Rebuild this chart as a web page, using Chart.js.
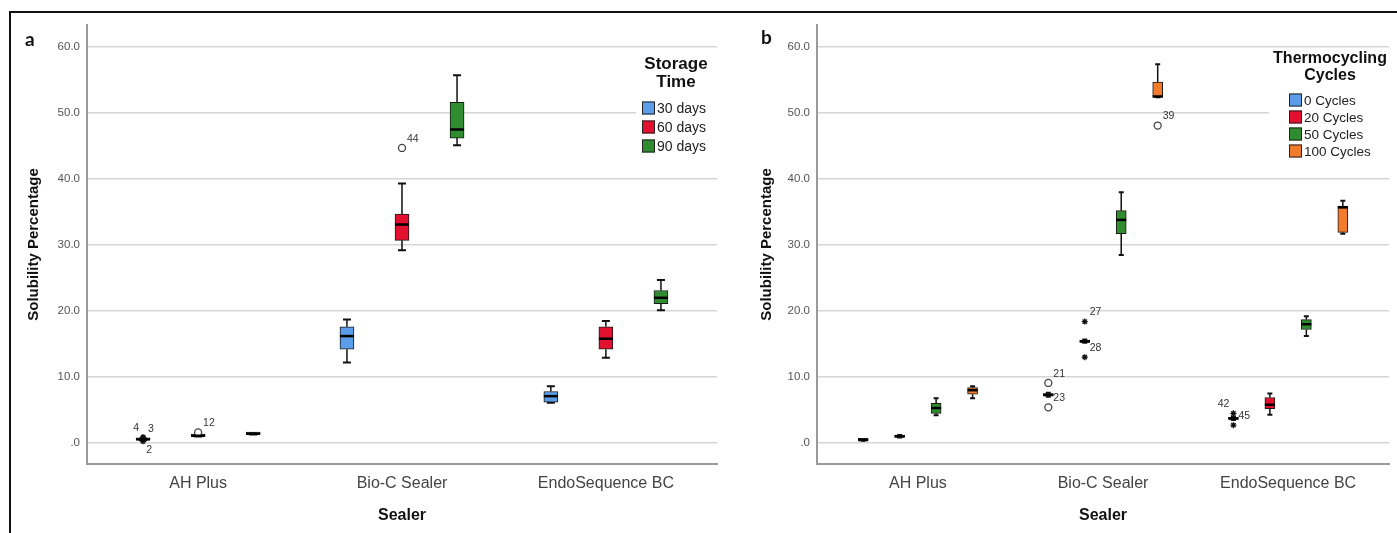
<!DOCTYPE html>
<html>
<head>
<meta charset="utf-8">
<script src="https://cdn.jsdelivr.net/npm/chart.js@4.4.1/dist/chart.umd.min.js"></script>
<style>
  html, body { margin: 0; padding: 0; background: #fff; }
  #wrap { position: relative; width: 1397px; height: 533px; overflow: hidden; }
  #frame { position: absolute; left: 9px; top: 11px; width: 1400px; height: 600px;
           border-top: 2px solid #111; border-left: 2px solid #111; }
  canvas { position: absolute; top: 0; }
  #chartA { left: 0; }
  #chartB { left: 725px; }
  .tag { position: absolute; font: bold 19px Lato, "DejaVu Sans", sans-serif; color: #111; }
</style>
</head>
<body>
<div id="wrap">
  <div id="frame"></div>
  <canvas id="chartA" width="725" height="533"></canvas>
  <canvas id="chartB" width="672" height="533"></canvas>
  <div class="tag" style="left:25px;top:27px">a</div>
  <div class="tag" style="left:761px;top:25px">b</div>
</div>
<script>
// shared
const sealers = ['AH Plus', 'Bio-C Sealer', 'EndoSequence BC'];
const yTicks = [0, 10, 20, 30, 40, 50, 60];
const boxColors = ['#5b9de8', '#e3112f', '#2f8c2f', '#f27b2c'];

// panel a - storage time, each entry is [min, q1, median, q3, max] per sealer
const storageTimes = ['30 days', '60 days', '90 days'];
const days30 = [[0.4, 0.5, 0.55, 0.6, 0.7], [12.2, 14.2, 16.2, 17.6, 18.7], [6.1, 6.2, 7.1, 7.8, 8.6]];
const days60 = [[1.0, 1.05, 1.1, 1.15, 1.2], [29.2, 30.7, 33.1, 34.7, 39.3], [12.9, 14.2, 15.8, 17.6, 18.5]];
const days90 = [[1.3, 1.35, 1.4, 1.45, 1.5], [45.1, 46.2, 47.5, 51.6, 55.7], [20.1, 21.1, 22.0, 23.1, 24.7]];
// outliers: [sealer index, value, case number, marker, label side]
const days30Out = [[0, 0.9, '4', 'star', 'ul'], [0, 0.75, '3', 'star', 'ur'], [0, 0.25, '2', 'star', 'b']];
const days60Out = [[0, 1.6, '12', 'circle', 'ur'], [1, 44.7, '44', 'circle', 'ur']];
const days90Out = [];

// panel b - thermocycling
const cycles = ['0 Cycles', '20 Cycles', '50 Cycles', '100 Cycles'];
const cyc0 = [[0.35, 0.4, 0.45, 0.5, 0.55], [7.0, 7.1, 7.3, 7.5, 7.6], [3.5, 3.6, 3.7, 3.9, 4.0]];
const cyc20 = [[0.85, 0.9, 1.0, 1.1, 1.2], [15.2, 15.25, 15.4, 15.6, 15.7], [4.3, 5.2, 5.8, 6.9, 7.5]];
const cyc50 = [[4.2, 4.5, 5.3, 6.0, 6.8], [28.5, 31.7, 33.8, 35.2, 38.0], [16.2, 17.2, 18.0, 18.7, 19.2]];
const cyc100 = [[6.8, 7.4, 8.0, 8.4, 8.6], [52.4, 52.4, 52.5, 54.7, 57.4], [31.7, 31.9, 35.7, 35.9, 36.7]];
const cyc0Out = [[1, 9.1, '21', 'circle', 'ur'], [1, 5.4, '23', 'circle', 'ur'], [2, 4.5, '42', 'star', 'ul'], [2, 2.7, '45', 'star', 'ur']];
const cyc20Out = [[1, 18.4, '27', 'star', 'ur'], [1, 13.0, '28', 'star', 'ur']];
const cyc50Out = [];
const cyc100Out = [[1, 48.1, '39', 'circle', 'ur']];

Chart.defaults.font.family = '"Liberation Sans", Arial, sans-serif';
Chart.defaults.animation = false;

function boxChart(id, series, names, outs, o) {
  const n = series.length;
  const offsets = names.map((_, i) => (i - (n - 1) / 2) * o.step);
  const datasets = [];

  // outliers on top
  const pts = [];
  outs.forEach((list, si) => list.forEach(p => pts.push({ x: p[0] + 1 + offsets[si], y: p[1], id: p[2], mk: p[3], side: p[4] })));
  datasets.push({
    type: 'scatter', order: 0,
    data: pts,
    pointStyle: pts.map(p => p.mk),
    pointRadius: pts.map(p => p.mk === 'star' ? 3 : 3.5),
    pointBackgroundColor: '#fff',
    pointBorderColor: pts.map(p => p.mk === 'star' ? '#111' : '#444'),
    pointBorderWidth: 1.3
  });

  series.forEach((stats, si) => {
    datasets.push({
      type: 'bar', label: names[si], order: 1,
      data: stats.map((s, ci) => ({ x: ci + 1 + offsets[si], y: [s[1], s[3]] })),
      backgroundColor: boxColors[si],
      borderColor: '#1a1a1a',
      borderWidth: 1,
      borderSkipped: false,
      barThickness: o.boxWidth,
      minBarLength: 2,
      grouped: false
    });
  });

  const whiskers = {
    id: 'whiskers',
    beforeDatasetsDraw(chart) {
      const { ctx, scales: { x, y } } = chart;
      ctx.save();
      ctx.strokeStyle = '#111';
      ctx.lineWidth = 1.5;
      series.forEach((stats, si) => stats.forEach((s, ci) => {
        const px = x.getPixelForValue(ci + 1 + offsets[si]);
        const c = o.cap / 2;
        ctx.beginPath();
        ctx.moveTo(px, y.getPixelForValue(s[0]));
        ctx.lineTo(px, y.getPixelForValue(s[1]));
        ctx.moveTo(px, y.getPixelForValue(s[3]));
        ctx.lineTo(px, y.getPixelForValue(s[4]));
        ctx.stroke();
        ctx.lineWidth = 2;
        ctx.beginPath();
        ctx.moveTo(px - c, y.getPixelForValue(s[0]));
        ctx.lineTo(px + c, y.getPixelForValue(s[0]));
        ctx.moveTo(px - c, y.getPixelForValue(s[4]));
        ctx.lineTo(px + c, y.getPixelForValue(s[4]));
        ctx.stroke();
        ctx.lineWidth = 1.5;
      }));
      ctx.restore();
    },
    afterDatasetsDraw(chart) {
      const { ctx, scales: { x, y } } = chart;
      ctx.save();
      // medians
      ctx.strokeStyle = '#000';
      ctx.lineWidth = 2.5;
      series.forEach((stats, si) => stats.forEach((s, ci) => {
        const px = x.getPixelForValue(ci + 1 + offsets[si]);
        const py = y.getPixelForValue(s[2]);
        ctx.beginPath();
        ctx.moveTo(px - o.boxWidth / 2, py);
        ctx.lineTo(px + o.boxWidth / 2, py);
        ctx.stroke();
      }));
      // case labels
      ctx.fillStyle = '#333';
      ctx.font = '10.5px "Liberation Sans", Arial, sans-serif';
      ctx.textBaseline = 'middle';
      pts.forEach(p => {
        const px = x.getPixelForValue(p.x), py = y.getPixelForValue(p.y);
        if (p.side === 'ul') { ctx.textAlign = 'right'; ctx.fillText(p.id, px - 4, py - 9); }
        else if (p.side === 'b') { ctx.textAlign = 'center'; ctx.fillText(p.id, px + 6, py + 9); }
        else { ctx.textAlign = 'left'; ctx.fillText(p.id, px + 5, py - 9); }
      });
      // legend
      const lg = o.legend;
      ctx.fillStyle = '#fff';
      ctx.fillRect(lg.x0, lg.y0, lg.x1 - lg.x0, lg.y1 - lg.y0);
      ctx.fillStyle = '#111';
      ctx.textAlign = 'center';
      ctx.font = 'bold ' + lg.titleSize + 'px "Liberation Sans", Arial, sans-serif';
      lg.title.forEach((t, i) => ctx.fillText(t, lg.titleX, lg.titleY[i]));
      ctx.textAlign = 'left';
      ctx.font = lg.textSize + 'px "Liberation Sans", Arial, sans-serif';
      names.forEach((nm, i) => {
        const ry = lg.rowY + i * lg.rowGap;
        ctx.fillStyle = boxColors[i];
        ctx.fillRect(lg.boxX, ry - 6.5, 13, 13);
        ctx.strokeStyle = '#222';
        ctx.lineWidth = 1;
        ctx.strokeRect(lg.boxX + 0.5, ry - 6, 12, 12);
        ctx.fillStyle = '#222';
        ctx.fillText(nm, lg.boxX + 15, ry + 1);
      });
      ctx.restore();
    }
  };

  return new Chart(document.getElementById(id), {
    type: 'bar',
    data: { datasets },
    options: {
      responsive: false,
      events: [],
      layout: { padding: { left: 0, right: 8, top: 25, bottom: 0 } },
      plugins: { legend: { display: false }, tooltip: { enabled: false } },
      scales: {
        x: {
          type: 'linear', min: 0.455, max: 3.545, offset: false,
          afterBuildTicks: s => { s.ticks = sealers.map((_, i) => ({ value: i + 1 })); },
          afterFit: s => { s.height = 69; },
          ticks: { autoSkip: false, maxRotation: 0, padding: 10, color: '#444', font: { size: 16 },
                   callback: v => sealers[v - 1] },
          grid: { display: false, drawTicks: false },
          border: { color: '#9a9a9a', width: 2 },
          title: { display: true, text: 'Sealer', color: '#111', font: { size: 16, weight: 'bold' },
                   padding: { top: 0, bottom: 8 } }
        },
        y: {
          type: 'linear', min: -3.18, max: 63.33,
          afterBuildTicks: s => { s.ticks = yTicks.map(v => ({ value: v })); },
          afterFit: s => { s.width = o.yWidth; },
          ticks: { padding: 7, color: '#555', font: { size: 11.5 },
                   callback: v => v === 0 ? '.0' : v.toFixed(1) },
          grid: { color: '#d6d6d6', lineWidth: 1.5, drawTicks: false },
          border: { color: '#9a9a9a', width: 2 },
          title: { display: true, text: 'Solubility Percentage', color: '#111',
                   font: { size: 15, weight: 'bold' }, padding: { top: o.yTitlePad, bottom: 0 } }
        }
      }
    },
    plugins: [whiskers]
  });
}

boxChart('chartA', [days30, days60, days90], storageTimes, [days30Out, days60Out, days90Out], {
  step: 0.27, boxWidth: 14, cap: 8, yWidth: 87, yTitlePad: 25,
  legend: { x0: 636, y0: 52, x1: 717, y1: 156, title: ['Storage', 'Time'], titleX: 676, titleY: [64, 82],
            titleSize: 17, boxX: 642, rowY: 108, rowGap: 19, textSize: 14 }
});

boxChart('chartB', [cyc0, cyc20, cyc50, cyc100], cycles, [cyc0Out, cyc20Out, cyc50Out, cyc100Out], {
  step: 0.197, boxWidth: 10, cap: 5, yWidth: 92, yTitlePad: 33,
  legend: { x0: 544, y0: 50, x1: 664, y1: 160, title: ['Thermocycling', 'Cycles'], titleX: 605, titleY: [59, 76],
            titleSize: 16, boxX: 564, rowY: 100, rowGap: 17, textSize: 13.5 }
});
</script>
</body>
</html>
